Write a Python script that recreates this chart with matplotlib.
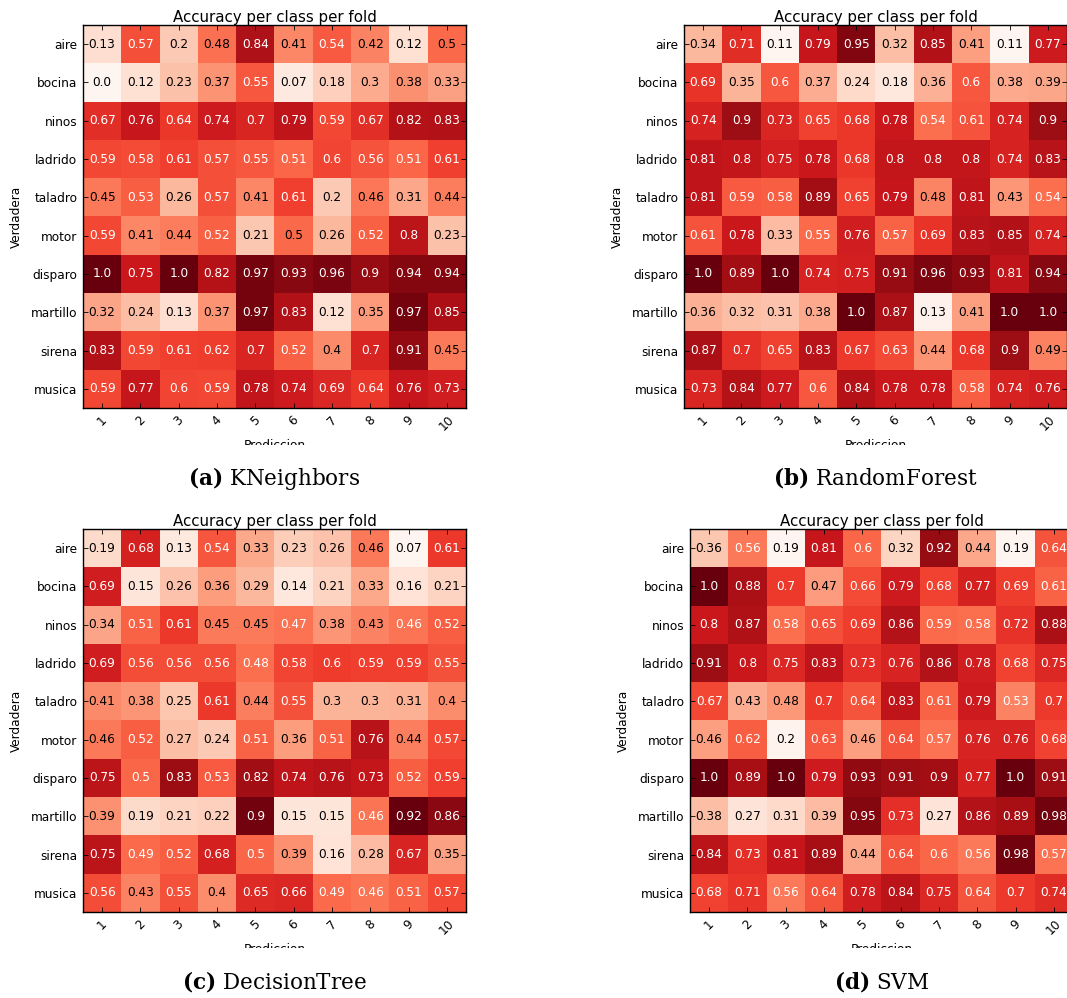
import matplotlib
matplotlib.use("Agg")
import matplotlib.pyplot as plt
import numpy as np
from matplotlib.transforms import Bbox, TransformedBbox

plt.rcParams['mathtext.fontset'] = 'dejavuserif'

classes = ["aire", "bocina", "ninos", "ladrido", "taladro", "motor",
           "disparo", "martillo", "sirena", "musica"]
folds = ["1", "2", "3", "4", "5", "6", "7", "8", "9", "10"]

knn = [
    [0.13, 0.57, 0.2, 0.48, 0.84, 0.41, 0.54, 0.42, 0.12, 0.5],
    [0.0, 0.12, 0.23, 0.37, 0.55, 0.07, 0.18, 0.3, 0.38, 0.33],
    [0.67, 0.76, 0.64, 0.74, 0.7, 0.79, 0.59, 0.67, 0.82, 0.83],
    [0.59, 0.58, 0.61, 0.57, 0.55, 0.51, 0.6, 0.56, 0.51, 0.61],
    [0.45, 0.53, 0.26, 0.57, 0.41, 0.61, 0.2, 0.46, 0.31, 0.44],
    [0.59, 0.41, 0.44, 0.52, 0.21, 0.5, 0.26, 0.52, 0.8, 0.23],
    [1.0, 0.75, 1.0, 0.82, 0.97, 0.93, 0.96, 0.9, 0.94, 0.94],
    [0.32, 0.24, 0.13, 0.37, 0.97, 0.83, 0.12, 0.35, 0.97, 0.85],
    [0.83, 0.59, 0.61, 0.62, 0.7, 0.52, 0.4, 0.7, 0.91, 0.45],
    [0.59, 0.77, 0.6, 0.59, 0.78, 0.74, 0.69, 0.64, 0.76, 0.73],
]
rf = [
    [0.34, 0.71, 0.11, 0.79, 0.95, 0.32, 0.85, 0.41, 0.11, 0.77],
    [0.69, 0.35, 0.6, 0.37, 0.24, 0.18, 0.36, 0.6, 0.38, 0.39],
    [0.74, 0.9, 0.73, 0.65, 0.68, 0.78, 0.54, 0.61, 0.74, 0.9],
    [0.81, 0.8, 0.75, 0.78, 0.68, 0.8, 0.8, 0.8, 0.74, 0.83],
    [0.81, 0.59, 0.58, 0.89, 0.65, 0.79, 0.48, 0.81, 0.43, 0.54],
    [0.61, 0.78, 0.33, 0.55, 0.76, 0.57, 0.69, 0.83, 0.85, 0.74],
    [1.0, 0.89, 1.0, 0.74, 0.75, 0.91, 0.96, 0.93, 0.81, 0.94],
    [0.36, 0.32, 0.31, 0.38, 1.0, 0.87, 0.13, 0.41, 1.0, 1.0],
    [0.87, 0.7, 0.65, 0.83, 0.67, 0.63, 0.44, 0.68, 0.9, 0.49],
    [0.73, 0.84, 0.77, 0.6, 0.84, 0.78, 0.78, 0.58, 0.74, 0.76],
]
dt = [
    [0.19, 0.68, 0.13, 0.54, 0.33, 0.23, 0.26, 0.458, 0.07, 0.61],
    [0.69, 0.15, 0.26, 0.36, 0.29, 0.14, 0.21, 0.33, 0.16, 0.21],
    [0.34, 0.51, 0.61, 0.45, 0.45, 0.47, 0.38, 0.43, 0.462, 0.52],
    [0.69, 0.56, 0.56, 0.56, 0.48, 0.58, 0.6, 0.59, 0.59, 0.55],
    [0.41, 0.38, 0.25, 0.61, 0.44, 0.55, 0.3, 0.3, 0.31, 0.4],
    [0.458, 0.52, 0.27, 0.24, 0.51, 0.36, 0.51, 0.76, 0.44, 0.57],
    [0.75, 0.5, 0.83, 0.53, 0.82, 0.74, 0.76, 0.73, 0.52, 0.59],
    [0.39, 0.19, 0.21, 0.22, 0.9, 0.15, 0.15, 0.462, 0.92, 0.86],
    [0.75, 0.49, 0.52, 0.68, 0.5, 0.39, 0.16, 0.28, 0.67, 0.35],
    [0.56, 0.43, 0.55, 0.4, 0.65, 0.66, 0.49, 0.462, 0.51, 0.57],
]
svm = [
    [0.36, 0.56, 0.19, 0.81, 0.6, 0.32, 0.92, 0.44, 0.19, 0.64],
    [1.0, 0.88, 0.7, 0.47, 0.66, 0.79, 0.68, 0.77, 0.69, 0.61],
    [0.8, 0.87, 0.58, 0.65, 0.69, 0.86, 0.59, 0.58, 0.72, 0.88],
    [0.91, 0.8, 0.75, 0.83, 0.73, 0.76, 0.86, 0.78, 0.68, 0.75],
    [0.67, 0.43, 0.48, 0.7, 0.64, 0.83, 0.61, 0.79, 0.53, 0.7],
    [0.46, 0.62, 0.2, 0.63, 0.46, 0.64, 0.57, 0.76, 0.76, 0.68],
    [1.0, 0.89, 1.0, 0.79, 0.93, 0.91, 0.9, 0.77, 1.0, 0.91],
    [0.38, 0.27, 0.31, 0.39, 0.95, 0.73, 0.27, 0.86, 0.89, 0.98],
    [0.84, 0.73, 0.81, 0.89, 0.44, 0.64, 0.6, 0.56, 0.98, 0.57],
    [0.68, 0.71, 0.56, 0.64, 0.78, 0.84, 0.75, 0.64, 0.7, 0.74],
]

panels = [
    (knn, "(a)", "KNeighbors"),
    (rf, "(b)", "RandomForest"),
    (dt, "(c)", "DecisionTree"),
    (svm, "(d)", "SVM"),
]

W, H = 1067, 998
fig = plt.figure(figsize=(W / 100, H / 100), dpi=100)

# axes rectangles in pixels (left, top)
ax_px = [(83, 25), (684, 25), (83, 529), (690, 529)]
size = 383
clip_y = [445, 445, 948, 948]
cap_base = [485, 485, 989, 989]

fs = 8.7
for i, (data, tag, name) in enumerate(panels):
    lx, ty = ax_px[i]
    ax = fig.add_axes([lx / W, (H - ty - size) / H, size / W, size / H])
    m = np.array(data)
    ax.imshow(m, cmap="Reds", interpolation="nearest", aspect="auto")
    thresh = m.max() / 2.0
    for r in range(m.shape[0]):
        for c in range(m.shape[1]):
            v = m[r, c]
            ax.text(c, r, str(round(float(v), 2)), ha="center", va="center",
                    fontsize=fs, color="white" if v > thresh else "black")
    ax.set_xticks(range(len(folds)))
    ax.set_xticklabels(folds, rotation=45, fontsize=fs)
    ax.set_yticks(range(len(classes)))
    ax.set_yticklabels(classes, fontsize=fs)
    ax.tick_params(direction="in", top=True, right=True, length=3.5,
                   width=0.6, pad=4)
    for s in ax.spines.values():
        s.set_linewidth(1.0)
    ax.set_title("Accuracy per class per fold", fontsize=10.8, pad=2.5)
    ax.set_ylabel("Verdadera", fontsize=fs)
    ax.yaxis.set_label_coords(-0.157, 0.5)
    xl = ax.set_xlabel("Prediccion", fontsize=fs)
    ax.xaxis.set_label_coords(0.5, -0.082)
    clip_bb = TransformedBbox(Bbox([[0, 1 - clip_y[i] / H], [1, 1]]), fig.transFigure)
    xl.set_clip_box(clip_bb)
    xl.set_clip_on(True)
    cx = (lx + size / 2) / W
    fig.text(cx, 1 - cap_base[i] / H, r"$\mathbf{" + tag + "}$ " + name,
             ha="center", va="baseline", fontsize=15.5, family="DejaVu Serif")

fig.savefig("out.png", dpi=100)
